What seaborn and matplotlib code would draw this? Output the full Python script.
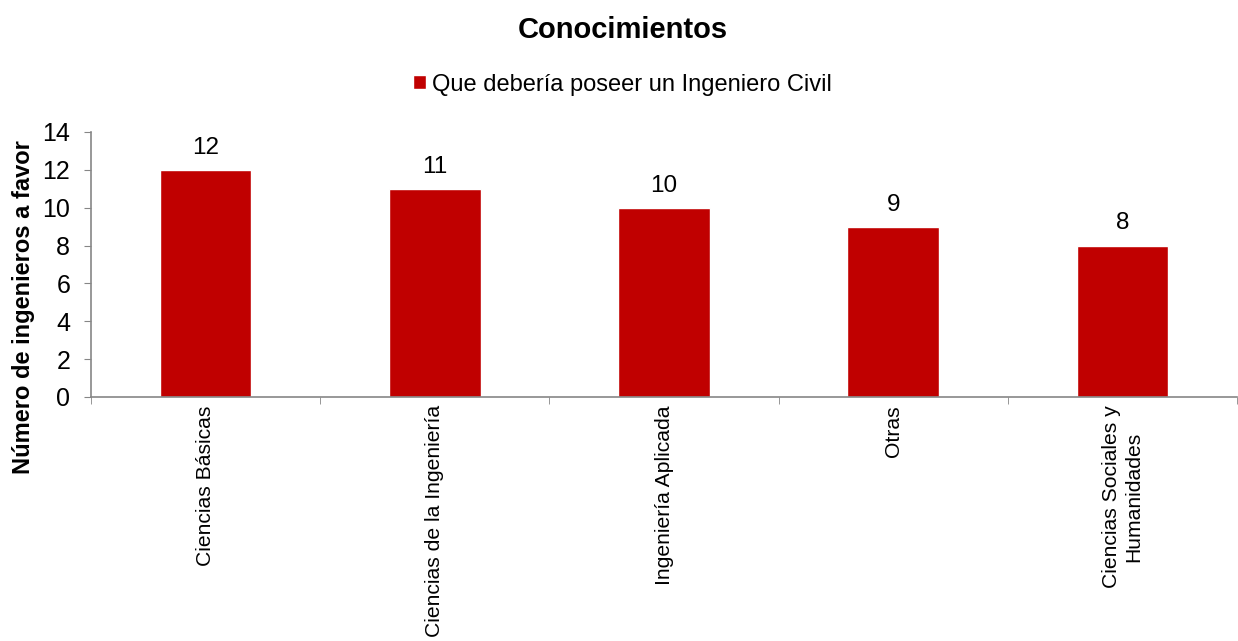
import pandas as pd
import matplotlib
matplotlib.use("Agg")
import matplotlib.pyplot as plt
import seaborn as sns
from matplotlib.patches import Patch
import numpy as np

# Data
categories = [
    "Ciencias Básicas",
    "Ciencias de la Ingeniería",
    "Ingeniería Aplicada",
    "Otras",
    "Ciencias Sociales y\nHumanidades",
]
values = [12, 11, 10, 9, 8]
series_name = "Que debería poseer un Ingeniero Civil"

df = pd.DataFrame({"categoria": categories, "valor": values})

sns.set_style("white")
plt.rcParams["font.family"] = ["Liberation Sans", "DejaVu Sans"]
plt.rcParams["text.color"] = "black"
plt.rcParams["axes.labelcolor"] = "black"
plt.rcParams["xtick.color"] = "black"
plt.rcParams["ytick.color"] = "black"

bar_color = "#C00000"
axis_color = "#868686"

fig = plt.figure(figsize=(12.38, 6.41), dpi=100)
ax = fig.add_axes([0.0735, 0.3807, 0.9257, 0.4134])

sns.barplot(data=df, x="categoria", y="valor", color=bar_color, width=0.4,
            saturation=1, ax=ax)

# value labels above bars
for i, v in enumerate(values):
    ax.annotate(str(v), (i, v), xytext=(0, 8), textcoords="offset points",
                ha="center", va="bottom", fontsize=17.5, color="black")

ax.set_ylim(0, 14)
ax.set_yticks(range(0, 15, 2))
ax.set_xlim(-0.5, len(categories) - 0.5)

# tick marks on category boundaries, like the spreadsheet chart
ax.set_xticks(np.arange(len(categories)))
ax.set_xticks(np.arange(-0.5, len(categories)), minor=True)
ax.tick_params(axis="x", which="major", length=0, pad=6, labelsize=15.2,
               labelrotation=90, labelcolor="black")
ax.tick_params(axis="x", which="minor", length=5, color=axis_color,
               direction="out", bottom=True)
ax.tick_params(axis="y", length=5, color=axis_color, direction="out",
               left=True, labelsize=18, pad=10, labelcolor="black")
for lbl in ax.get_xticklabels():
    lbl.set_va("top")
    lbl.set_ha("center")
    lbl.set_multialignment("center")

for side in ["top", "right"]:
    ax.spines[side].set_visible(False)
for side in ["left", "bottom"]:
    ax.spines[side].set_color(axis_color)
    ax.spines[side].set_linewidth(1.2)

ax.set_xlabel("")
ax.set_ylabel("Número de ingenieros a favor", fontsize=17, fontweight="bold",
              color="black")
ax.yaxis.set_label_coords(-0.049, 0.34)

fig.suptitle("Conocimientos", fontsize=21, fontweight="bold", y=0.975,
             x=0.503, color="black")

handles = [Patch(facecolor=bar_color, label=series_name)]
fig.legend(handles=handles, loc="center", bbox_to_anchor=(0.503, 0.868),
           frameon=False, fontsize=17, handlelength=0.55, handleheight=0.55,
           handletextpad=0.25, labelcolor="black")

fig.savefig("out.png", dpi=100)
